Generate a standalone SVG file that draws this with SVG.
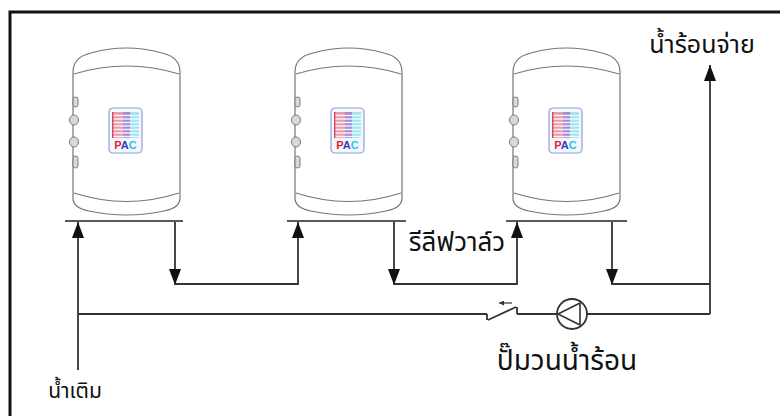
<svg xmlns="http://www.w3.org/2000/svg" width="780" height="416" viewBox="0 0 780 416">
  <style>
    .frame { fill: none; stroke: #111; stroke-width: 3; }
    .shell { fill: #fff; stroke: #767676; stroke-width: 1.2; }
    .band { fill: none; stroke: #767676; stroke-width: 1.2; }
    .nub { fill: #d9d9d9; stroke: #7a7a7a; stroke-width: 1; }
    .stand { stroke: #222; stroke-width: 1.6; }
    .pipe { fill: none; stroke: #333; stroke-width: 1.8; }
    .lbl { font-family: "Noto Sans Thai", "Noto Sans", "Liberation Sans", sans-serif; fill: #111; }
    .pac { font-family: "Liberation Sans", Arial, sans-serif; font-weight: bold; font-size: 11px; }
  </style>
  <defs>
    <marker id="head" viewBox="0 0 16 12" refX="16" refY="6" markerWidth="16" markerHeight="12" markerUnits="userSpaceOnUse" orient="auto">
      <path d="M0,0 L16,6 L0,12 Z" fill="#111"/>
    </marker>
    <marker id="tinyhead" viewBox="0 0 6 6" refX="6" refY="3" markerWidth="5" markerHeight="5" markerUnits="userSpaceOnUse" orient="auto">
      <path d="M0,0 L6,3 L0,6 Z" fill="#333"/>
    </marker>
    <!-- PAC badge printed on each tank -->
    <g id="badge">
      <rect x="0" y="0" width="33" height="45" rx="4" fill="#f5f7ff" stroke="#8f9fd6" stroke-width="1.2"/>
      <rect x="3" y="4" width="11" height="26" fill="#ef9aa6"/>
      <rect x="3" y="4" width="1.5" height="26" fill="#d8485a"/>
      <rect x="14" y="4" width="7" height="26" fill="#a48ad8"/>
      <rect x="21" y="4" width="9" height="26" fill="#9fe6f0"/>
      <g stroke="#f5f7ff" stroke-width="1.4">
        <line x1="4.5" y1="7.5" x2="30" y2="7.5"/>
        <line x1="4.5" y1="11" x2="30" y2="11"/>
        <line x1="4.5" y1="14.5" x2="30" y2="14.5"/>
        <line x1="4.5" y1="18" x2="30" y2="18"/>
        <line x1="4.5" y1="21.5" x2="30" y2="21.5"/>
        <line x1="4.5" y1="25" x2="30" y2="25"/>
        <line x1="4.5" y1="28.5" x2="30" y2="28.5"/>
      </g>
      <text class="pac" x="16.5" y="41" text-anchor="middle"><tspan fill="#e4222c">P</tspan><tspan fill="#2a3ec2">A</tspan><tspan fill="#33c2e2">C</tspan></text>
    </g>
    <!-- storage tank body, 107 wide -->
    <g id="tank">
      <path class="shell" d="M0,24 Q0,9 18,5 Q53.5,-5 89,5 Q107,9 107,24 V150 Q107,160 91,163 Q53.5,171 16,163 Q0,160 0,150 Z"/>
      <path class="band" d="M1,26 Q53.5,10 106,26"/>
      <path class="band" d="M1,145 Q53.5,162 106,145"/>
      <rect class="nub" x="0" y="49" width="5" height="10" rx="2.5"/>
      <ellipse class="nub" cx="1" cy="72" rx="4.5" ry="5"/>
      <ellipse class="nub" cx="1" cy="94" rx="4.5" ry="5"/>
      <rect class="nub" x="0" y="108" width="5" height="12" rx="2.5"/>
      <use href="#badge" x="36" y="60"/>
    </g>
  </defs>

  <!-- outer frame -->
  <path class="frame" d="M10,416 V12 H780"/>

  <g id="tank-1">
    <use href="#tank" x="73" y="48"/>
    <line class="stand" x1="65" y1="221" x2="183" y2="221"/>
  </g>
  <g id="tank-2">
    <use href="#tank" x="295" y="48"/>
    <line class="stand" x1="287" y1="221" x2="406" y2="221"/>
  </g>
  <g id="tank-3">
    <use href="#tank" x="513" y="48"/>
    <line class="stand" x1="506" y1="221" x2="627" y2="221"/>
  </g>

  <g id="connectors">
    <!-- cold water feed into tank 1 -->
    <path class="pipe" d="M78,370 V222" marker-end="url(#head)"/>
    <!-- tank 1 to tank 2 -->
    <path class="pipe" d="M175,222 V285" marker-end="url(#head)"/>
    <path class="pipe" d="M175,284 H298 V222" marker-end="url(#head)"/>
    <!-- tank 2 to tank 3 -->
    <path class="pipe" d="M394,222 V285" marker-end="url(#head)"/>
    <path class="pipe" d="M394,284 H517 V222" marker-end="url(#head)"/>
    <!-- tank 3 to hot water outlet -->
    <path class="pipe" d="M612,222 V285" marker-end="url(#head)"/>
    <path class="pipe" d="M612,284 H710"/>
    <path class="pipe" d="M710,314 V65" marker-end="url(#head)"/>
    <!-- return loop -->
    <path class="pipe" d="M78,314 H487"/>
    <path class="pipe" d="M517,314 H557"/>
    <path class="pipe" d="M587,314 H710"/>
  </g>

  <g id="check-valve">
    <path class="pipe" d="M487,314 V320 M488,320 L516,307 M517,307 V314"/>
    <path d="M512,303 H499" stroke="#333" stroke-width="1.2" marker-end="url(#tinyhead)"/>
  </g>

  <g id="pump">
    <circle cx="572" cy="314" r="15" fill="#fff" stroke="#333" stroke-width="1.8"/>
    <path d="M558,314 L580,303 L580,325 Z" fill="none" stroke="#333" stroke-width="1.6" stroke-linejoin="round"/>
  </g>

  <g id="labels">
    <text class="lbl" x="702" y="53" font-size="25" text-anchor="middle">น้ำร้อนจ่าย</text>
    <text class="lbl" x="457" y="251" font-size="26" text-anchor="middle">รีลีฟวาล์ว</text>
    <text class="lbl" x="567" y="370" font-size="28" text-anchor="middle">ปั๊มวนน้ำร้อน</text>
    <text class="lbl" x="75" y="398" font-size="21" text-anchor="middle">น้ำเติม</text>
  </g>
</svg>
